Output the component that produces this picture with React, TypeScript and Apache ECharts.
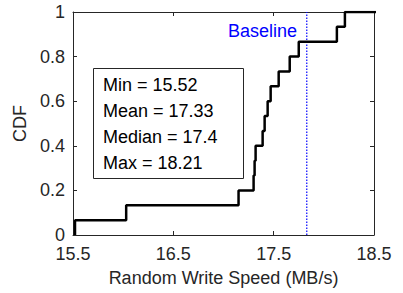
import React, { useEffect, useRef } from "react";
import * as echarts from "echarts";

// Sorted write-speed samples (MB/s)
const speeds = [15.52, 16.03, 17.15, 17.3, 17.31, 17.32, 17.39, 17.41, 17.44, 17.47, 17.55, 17.66, 17.75, 18.13, 18.21];
const baselineSpeed = 17.83;
const xTicks = [15.5, 16.5, 17.5, 18.5];
const statLines = ["Min = 15.52", "Mean = 17.33", "Median = 17.4", "Max = 18.21"];

const FONT = "Liberation Sans, Arial, Helvetica, sans-serif";
const AX = "#262626";
const FS = 18;

export default function App() {
  const ref = useRef<HTMLDivElement>(null);
  useEffect(() => {
    if (!ref.current) return;
    const chart = echarts.init(ref.current, null, { renderer: "svg" });
    const n = speeds.length;
    const cdf: [number, number][] = [[speeds[0], 0]];
    speeds.forEach((v, i) => cdf.push([v, (i + 1) / n]));
    cdf.push([18.6, 1]);

    const xCommon = {
      type: "value" as const,
      min: 15.5,
      max: 18.5,
      splitLine: { show: false },
      axisLine: { show: true, onZero: false, lineStyle: { color: AX, width: 1 } },
      axisTick: { show: true, inside: true, length: 4, customValues: xTicks, lineStyle: { color: AX } },
    };
    const yCommon = {
      type: "value" as const,
      min: 0,
      max: 1,
      interval: 0.2,
      splitLine: { show: false },
      axisLine: { show: true, onZero: false, lineStyle: { color: AX, width: 1 } },
      axisTick: { show: true, inside: true, length: 4, lineStyle: { color: AX } },
    };

    chart.setOption({
      animation: false,
      grid: { left: 73, right: 29, top: 12, bottom: 58, containLabel: false },
      xAxis: [
        {
          ...xCommon,
          position: "bottom",
          name: "Random Write Speed (MB/s)",
          nameLocation: "middle",
          nameGap: 34,
          nameTextStyle: { color: AX, fontSize: FS, fontFamily: FONT },
          axisLabel: {
            show: true,
            customValues: xTicks,
            margin: 10,
            color: AX,
            fontSize: FS,
            fontFamily: FONT,
            formatter: (v: number) => v.toFixed(1),
          },
        },
        { ...xCommon, position: "top", axisLabel: { show: false } },
      ],
      yAxis: [
        {
          ...yCommon,
          position: "left",
          name: "CDF",
          nameLocation: "middle",
          nameGap: 36,
          nameTextStyle: { color: AX, fontSize: FS, fontFamily: FONT },
          axisLabel: { show: true, margin: 8, color: AX, fontSize: FS, fontFamily: FONT },
        },
        { ...yCommon, position: "right", axisLabel: { show: false } },
      ],
      series: [
        {
          type: "line",
          data: [
            [baselineSpeed, 0],
            [baselineSpeed, 1],
          ],
          symbol: "none",
          silent: true,
          lineStyle: { color: "#0000ff", type: [1.5, 1.5], width: 1.2 },
        },
        {
          type: "line",
          step: "end",
          data: cdf,
          symbol: "none",
          clip: true,
          lineStyle: { color: "#000", width: 2.5 },
        },
      ],
      graphic: [
        {
          type: "rect",
          shape: { x: 93.5, y: 68.5, width: 150, height: 110 },
          style: { fill: "#fff", stroke: "#262626", lineWidth: 1 },
        },
        ...statLines.map((t, i) => ({
          type: "text",
          x: 103,
          y: 85 + i * 26,
          style: { text: t, fill: "#000", font: `${FS}px ${FONT}`, textVerticalAlign: "middle", textAlign: "left" },
        })),
        {
          type: "text",
          x: 297,
          y: 31,
          style: { text: "Baseline", fill: "#0000ff", font: `${FS}px ${FONT}`, textVerticalAlign: "middle", textAlign: "right" },
        },
      ],
    });
    return () => chart.dispose();
  }, []);
  return <div ref={ref} style={{ position: "fixed", left: 0, top: 0, width: 403, height: 293, background: "#fff" }} />;
}
